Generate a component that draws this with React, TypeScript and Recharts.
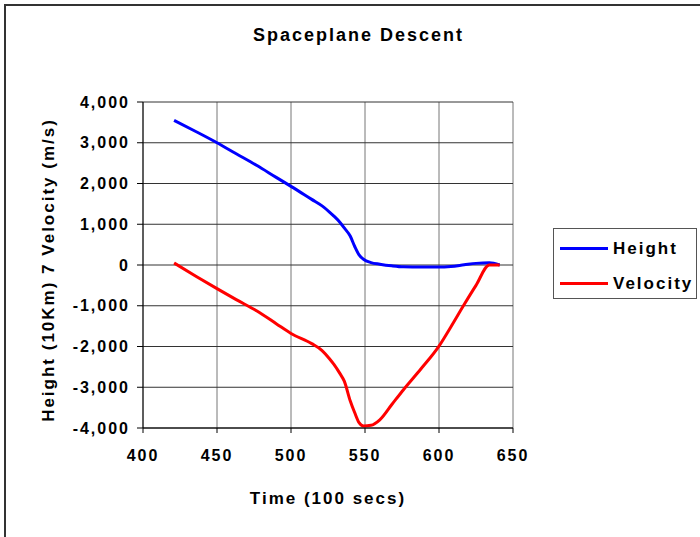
import React from 'react';
import { LineChart, Line, XAxis, YAxis, CartesianGrid, Legend, Label } from 'recharts';

const FONT = '"Liberation Sans", Arial, sans-serif';

const chartTitle = 'Spaceplane Descent';
const xAxisTitle = 'Time (100 secs)';
const yAxisTitle = 'Height (10Km) 7 Velocity (m/s)';
const seriesNames = ['Height', 'Velocity'];
const seriesColors = ['#0000FF', '#FF0000'];

const xTicks = [400, 450, 500, 550, 600, 650];
const yTicks = [-4000, -3000, -2000, -1000, 0, 1000, 2000, 3000, 4000];

const times = [421, 436, 450, 463, 477, 490, 500, 514, 521, 526, 529, 533, 536, 540, 543, 546, 549, 554, 560, 568, 576, 588, 600, 608, 617, 625, 634, 641];
const heightValues = [3550, 3270, 3000, 2730, 2440, 2150, 1930, 1610, 1450, 1300, 1200, 1050, 910, 710, 460, 250, 140, 60, 20, -20, -45, -50, -50, -35, 5, 40, 55, 0];
const velocityValues = [50, -280, -580, -850, -1130, -1440, -1680, -1930, -2100, -2300, -2440, -2660, -2850, -3330, -3620, -3870, -3950, -3935, -3800, -3430, -3060, -2540, -1990, -1520, -970, -500, 0, 0];

const textStyle = { fontFamily: FONT, fontWeight: 'bold', fill: '#000', letterSpacing: 2 };

const renderLegend = (props: any) => {
  const { payload } = props;
  return (
    <div style={{ width: 144, height: 71, boxSizing: 'border-box', border: '1px solid #555', background: '#fff', paddingTop: 2, fontFamily: FONT, fontWeight: 'bold', fontSize: 17, letterSpacing: 2, color: '#000' }}>
      {(payload || []).map((entry: any) => (
        <div key={entry.value} style={{ display: 'flex', alignItems: 'center', height: 35 }}>
          <span style={{ display: 'inline-block', width: 48, height: 3, background: entry.color, marginLeft: 6, marginRight: 5 }} />
          <span>{entry.value}</span>
        </div>
      ))}
    </div>
  );
};

export default function App() {
  const data = times.map((t, i) => ({ time: t, height: heightValues[i], velocity: velocityValues[i] }));
  return (
    <div style={{ position: 'absolute', left: 0, top: 0, width: 700, height: 537, overflow: 'hidden', background: '#fff', fontFamily: FONT }}>
      <div style={{ position: 'absolute', left: 4, top: 4, width: 720, height: 560, border: '2px solid #333' }} />
      <div style={{ position: 'absolute', left: 0, top: 0 }}>
        <LineChart width={700} height={537} data={data} margin={{ top: 102, right: 187, bottom: 0, left: 0 }}>
          <CartesianGrid horizontal={false} stroke="#777" strokeWidth={1} />
          <CartesianGrid vertical={false} stroke="#333" strokeWidth={1} />
          <XAxis
            dataKey="time"
            type="number"
            domain={[400, 650]}
            ticks={xTicks}
            height={109}
            tickSize={5}
            tickMargin={17}
            axisLine={{ stroke: '#000' }}
            tickLine={{ stroke: '#000' }}
            tick={{ ...textStyle, fontSize: 16 }}
          >
            <Label value={xAxisTitle} position="insideBottom" offset={33} style={{ ...textStyle, fontSize: 17 }} />
          </XAxis>
          <YAxis
            type="number"
            domain={[-4000, 4000]}
            ticks={yTicks}
            width={143}
            tickSize={6}
            tickMargin={7}
            axisLine={{ stroke: '#000' }}
            tickLine={{ stroke: '#000' }}
            tick={{ ...textStyle, fontSize: 16 }}
            tickFormatter={(v: number) => v.toLocaleString('en-US')}
          >
            <Label
              content={() => (
                <text x={48} y={270} transform="rotate(-90, 48, 270)" textAnchor="middle" dominantBaseline="central" style={{ ...textStyle, fontSize: 17 }}>
                  {yAxisTitle}
                </text>
              )}
            />
          </YAxis>
          <Legend
            layout="vertical"
            align="center"
            verticalAlign="middle"
            content={renderLegend}
            wrapperStyle={{ position: 'absolute', left: 553, top: 228, width: 144, height: 71 }}
          />
          <Line type="monotone" dataKey="height" name={seriesNames[0]} stroke={seriesColors[0]} strokeWidth={3} dot={false} isAnimationActive={false} />
          <Line type="monotone" dataKey="velocity" name={seriesNames[1]} stroke={seriesColors[1]} strokeWidth={3} dot={false} isAnimationActive={false} />
        </LineChart>
      </div>
      <div style={{ position: 'absolute', left: 0, top: 24, width: 717, textAlign: 'center', fontSize: 18, fontWeight: 'bold', letterSpacing: 2, lineHeight: '22px', color: '#000' }}>
        {chartTitle}
      </div>
    </div>
  );
}
